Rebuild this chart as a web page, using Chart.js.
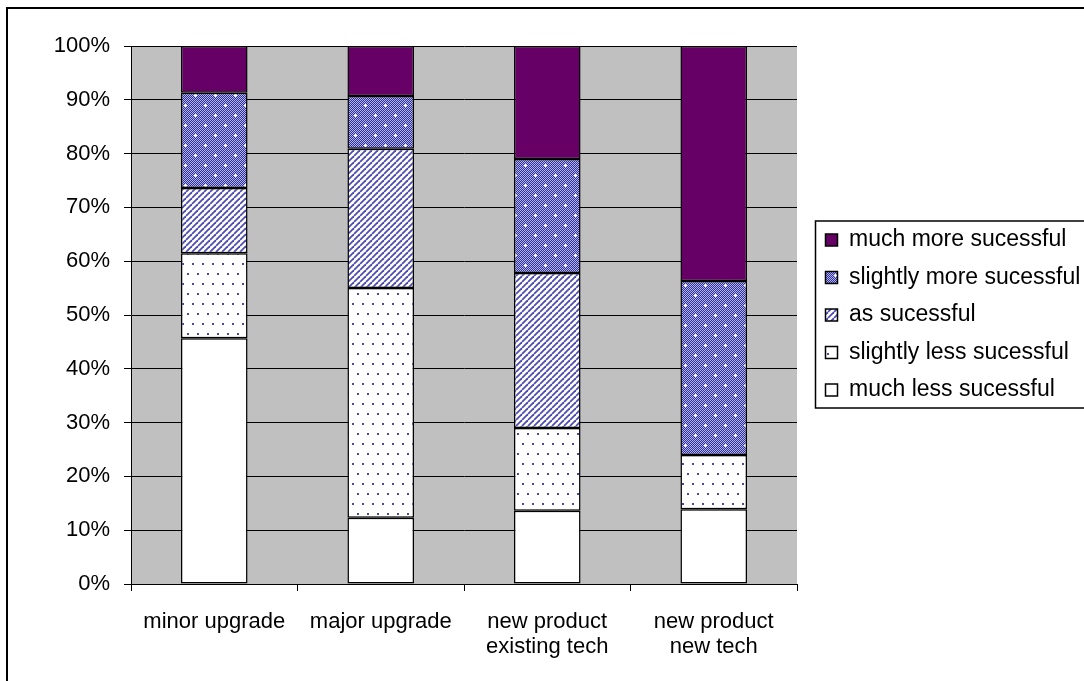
<!DOCTYPE html>
<html>
<head>
<meta charset="utf-8">
<script src="https://cdn.jsdelivr.net/npm/chart.js@4.4.1/dist/chart.umd.min.js"></script>
<style>
    html, body { margin: 0; padding: 0; background: #fff; }
    #wrap { width: 1084px; height: 681px; }
</style>
</head>
<body>
<div id="wrap"><canvas id="chart" width="1084" height="681"></canvas></div>
<script>
// data (percent of each bar)
const categories = [['minor upgrade'], ['major upgrade'], ['new product', 'existing tech'], ['new product', 'new tech']];
const seriesNames = ['much less sucessful', 'slightly less sucessful', 'as sucessful', 'slightly more sucessful', 'much more sucessful'];
const muchLess = [45.7, 12.3, 13.6, 13.9];
const slightlyLess = [15.8, 42.7, 15.4, 10.1];
const asSuccessful = [12.1, 25.9, 28.8, 0];
const slightlyMore = [17.7, 9.8, 21.2, 32.3];
const muchMore = [8.7, 9.3, 21.0, 43.7];
const yTicks = [0, 10, 20, 30, 40, 50, 60, 70, 80, 90, 100];

// --- fill patterns (excel style) ---
function makePattern(w, h, draw) {
    const c = document.createElement('canvas');
    c.width = w;
    c.height = h;
    const g = c.getContext('2d');
    draw(g);
    return document.getElementById('chart').getContext('2d').createPattern(c, 'repeat');
}

const dotsPattern = makePattern(10, 20, g => {
    g.fillStyle = '#fff';
    g.fillRect(0, 0, 10, 20);
    g.fillStyle = '#4848b0';
    g.fillRect(2, 3, 2, 2);
    g.fillRect(7, 13, 2, 2);
});

const stripePattern = makePattern(6, 6, g => {
    g.fillStyle = '#fff';
    g.fillRect(0, 0, 6, 6);
    g.strokeStyle = '#4c4cb4';
    g.lineWidth = 1.8;
    for (let k = -6; k <= 6; k += 6) {
        g.beginPath();
        g.moveTo(k, 6);
        g.lineTo(k + 6, 0);
        g.stroke();
    }
});

const weavePattern = makePattern(20, 20, g => {
    for (let y = 0; y < 20; y++) {
        for (let x = 0; x < 20; x++) {
            g.fillStyle = (x + y) % 2 ? '#30309c' : '#b4b4ec';
            g.fillRect(x, y, 1, 1);
        }
    }
    g.fillStyle = '#fff';
    [[5, 5], [15, 15]].forEach(([cx, cy]) => {
        g.fillRect(cx - 1, cy, 3, 1);
        g.fillRect(cx, cy - 1, 1, 3);
    });
});

const fills = ['#ffffff', dotsPattern, stripePattern, weavePattern, '#660066'];
const seriesData = [muchLess, slightlyLess, asSuccessful, slightlyMore, muchMore];

const FAMILY = 'Liberation Sans, Arial, sans-serif';
const TICK_FONT = { family: FAMILY, size: 22, lineHeight: 1.15 };
const LEGEND_FONT = { family: FAMILY, size: 23 };

// gray plot area, outer frame and legend frame
const framePlugin = {
    id: 'frames',
    beforeDraw(chart) {
        const { ctx, chartArea: a } = chart;
        ctx.save();
        ctx.fillStyle = '#c0c0c0';
        ctx.fillRect(a.left, a.top, a.right - a.left, a.bottom - a.top);
        ctx.restore();
    },
    afterDraw(chart) {
        const ctx = chart.ctx;
        ctx.save();
        ctx.strokeStyle = '#000';
        ctx.lineWidth = 2;
        ctx.strokeRect(7, 8, 1100, 700);
        const boxes = chart.legend.legendHitBoxes;
        if (boxes && boxes.length) {
            const first = boxes[0], last = boxes[boxes.length - 1];
            ctx.lineWidth = 1.5;
            ctx.strokeRect(first.left - 10, first.top - 7.5, 400, last.top + last.height - first.top + 14);
        }
        ctx.restore();
    }
};

new Chart(document.getElementById('chart'), {
    type: 'bar',
    data: {
        labels: categories,
        datasets: seriesNames.map((name, i) => ({
            label: name,
            data: seriesData[i],
            backgroundColor: fills[i],
            borderColor: '#000',
            borderWidth: 1.5,
            borderSkipped: false,
            barPercentage: 0.4,
            categoryPercentage: 1.0
        }))
    },
    options: {
        responsive: false,
        animation: false,
        layout: { padding: { top: 46, left: 0, right: 0, bottom: 0 } },
        scales: {
            x: {
                stacked: true,
                offset: true,
                afterFit: s => { s.height = 97; },
                grid: { offset: true, drawOnChartArea: false, color: '#000', tickLength: 7 },
                border: { color: '#000', width: 1 },
                ticks: { color: '#000', font: TICK_FONT, padding: 18, maxRotation: 0 }
            },
            y: {
                stacked: true,
                min: 0,
                max: 100,
                afterFit: s => { s.width = 131; },
                afterBuildTicks: axis => { axis.ticks = yTicks.map(v => ({ value: v })); },
                grid: { color: '#000', tickLength: 7 },
                border: { color: '#000', width: 1 },
                ticks: { color: '#000', font: TICK_FONT, padding: 14, callback: v => v + '%' }
            },
            // empty spacer between plot and legend
            gap: {
                type: 'linear',
                position: 'right',
                afterFit: s => { s.width = 14; },
                grid: { display: false },
                border: { display: false },
                ticks: { display: false }
            }
        },
        plugins: {
            tooltip: { enabled: false },
            legend: {
                position: 'right',
                fullSize: false,
                maxWidth: 273,
                reverse: true,
                labels: {
                    color: '#000',
                    font: LEGEND_FONT,
                    boxWidth: 12,
                    boxHeight: 12,
                    padding: 14.5
                }
            }
        }
    },
    plugins: [framePlugin]
});
</script>
</body>
</html>
